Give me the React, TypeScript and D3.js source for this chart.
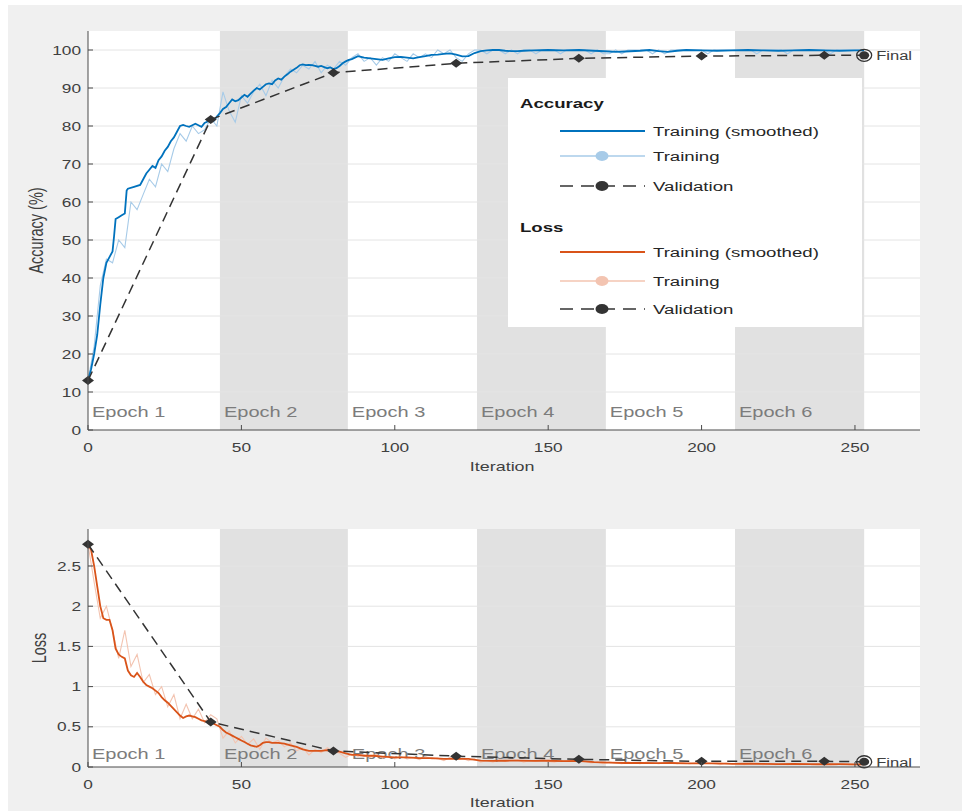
import React from 'react';
import * as d3 from 'd3';

// ---------------- data ----------------
const accSmooth: [number, number][] = [
  [0,13],[1,16],[2,20],[3,25],[4,33],[5,40],[6,44],[7,45.5],[8,47],[8.5,51],[9,55.5],[10,56],[11,56.5],[12,57],[12.6,63],[13,63.5],[15,64],[17,64.5],[18,66],[19,67.5],[20,68.5],[21,69.5],[22,69],[23,71],[24,72],[25,73.5],[26,74.5],[27,76],[28,77],[29,78.5],[30,80],[31,80.3],[32,80],[33,79.8],[34,80.2],[35,80.6],[36,80.2],[37,79.8],[38,80.8],[39,81.2],[40,81.6],[41,81.4],[42,82.5],[43,83.4],[44,84.5],[45,85],[46,86],[47,87],[48,86.5],[49,86.8],[50,87.5],[51,88.2],[52,87.7],[53,88.5],[54,89.3],[55,90],[56,89.6],[57,90.3],[58,91],[59,91.2],[60,91],[61,92],[62,92.5],[63,92.2],[64,93],[65,93.6],[66,94.3],[67,94.8],[68,95.3],[69,96],[70,96.2],[71,96],[72,96.1],[73,96],[74,95.8],[75,95.6],[76,95.8],[77,95.5],[78,95.2],[79,95.4],[80,95],[81,95.2],[82,95.8],[83,96.5],[84,97],[85,97.4],[86,97.6],[87,98],[88,98.4],[89,98.2],[90,98],[92,97.8],[94,97.6],[96,97.4],[98,97.8],[100,98.1],[102,98.2],[104,98],[106,97.8],[108,98.1],[110,98.4],[112,98.7],[114,98.8],[116,99],[118,99.1],[120,98.8],[122,98.3],[124,98.4],[126,99.2],[128,99.7],[130,99.9],[132,100],[134,100],[136,99.8],[138,99.7],[140,99.7],[142,99.8],[145,99.9],[150,100],[155,99.9],[160,100],[165,99.8],[170,99.6],[172,99.5],[175,99.6],[180,99.8],[183,100],[186,99.7],[189,99.5],[192,99.8],[195,100],[200,99.9],[205,99.8],[210,99.9],[215,100],[220,99.9],[225,99.8],[230,99.9],[235,100],[240,99.9],[245,99.8],[250,99.9],[253,99.9]
];

// raw training accuracy, one value every 2 iterations (0, 2, ..., 252)
const accRaw: number[] = [
  13,22,38,45,44,50,48,60,58,62,66,64,70,68,74,78,76,80,78,79,
  82,80,89,84,81,88,86,89,91,88,92,90,93,95,94,96,95,97,94,96,
  95,97,96,98,99,97,98,96,98,97,99,98,97,99,98,99,98,100,99,100,
  98,97,99,100,100,99,100,100,99,100,99,100,
  100,99,100,100,100,99,100,100,100,100,99,100,99,99,100,99,100,100,100,100,
  99,100,99,100,100,100,100,100,100,99,100,100,100,100,100,100,100,99,100,100,
  100,100,99,100,100,100,100,100,100,99,100,100,100,100,100
];

const lossSmooth: [number, number][] = [
  [0,2.77],[1,2.7],[2,2.5],[3,2.25],[4,2.0],[5,1.85],[6,1.83],[7,1.83],[8,1.7],[9,1.47],[10,1.4],[11,1.37],[12,1.35],[13,1.2],[14,1.14],[15,1.12],[16,1.17],[17,1.12],[18,1.06],[19,1.02],[20,1.0],[21,0.98],[22,0.95],[23,0.92],[24,0.87],[25,0.83],[26,0.8],[27,0.76],[28,0.72],[29,0.68],[30,0.64],[31,0.61],[32,0.63],[33,0.64],[34,0.63],[35,0.62],[36,0.6],[37,0.58],[38,0.57],[39,0.56],[40,0.55],[41,0.54],[42,0.52],[43,0.5],[44,0.46],[45,0.43],[46,0.41],[47,0.39],[48,0.37],[49,0.35],[50,0.33],[51,0.31],[52,0.29],[53,0.27],[54,0.26],[55,0.25],[56,0.27],[57,0.3],[58,0.31],[59,0.31],[60,0.3],[62,0.3],[64,0.29],[66,0.27],[68,0.25],[70,0.22],[72,0.2],[74,0.2],[76,0.2],[78,0.21],[80,0.2],[82,0.19],[84,0.17],[86,0.15],[88,0.15],[90,0.14],[93,0.14],[96,0.13],[100,0.12],[104,0.12],[108,0.11],[112,0.11],[116,0.1],[120,0.1],[124,0.1],[128,0.08],[132,0.075],[136,0.078],[140,0.08],[145,0.075],[150,0.078],[155,0.072],[160,0.075],[165,0.06],[170,0.055],[175,0.05],[180,0.052],[185,0.048],[190,0.05],[195,0.046],[200,0.045],[205,0.044],[210,0.04],[215,0.042],[220,0.038],[225,0.036],[230,0.038],[235,0.035],[240,0.034],[245,0.035],[250,0.033],[253,0.033]
];

// raw training loss, one value every 2 iterations (0, 2, ..., 252)
const lossRaw: number[] = [
  2.77,2.3,1.85,2.0,1.7,1.35,1.7,1.25,1.4,1.05,1.15,0.9,1.0,0.75,0.9,0.6,0.78,0.6,0.72,0.55,
  0.65,0.6,0.36,0.45,0.3,0.38,0.28,0.35,0.22,0.36,0.3,0.33,0.25,0.3,0.2,0.24,0.15,0.22,0.18,0.24,
  0.2,0.17,0.12,0.16,0.13,0.15,
  0.12,0.16,0.11,0.14,0.1,0.13,0.1,0.12,0.09,0.13,0.1,0.11,0.08,0.12,0.09,0.11,0.08,0.1,0.06,0.08,
  0.06,0.09,0.07,0.08,0.09,0.06,0.08,0.07,0.09,0.07,0.06,0.08,0.07,0.09,0.06,0.07,0.05,0.06,0.04,0.06,
  0.05,0.04,0.06,0.05,0.04,0.06,0.05,0.04,0.05,0.06,0.04,0.05,0.04,0.05,0.04,0.05,0.04,0.03,0.05,0.04,
  0.04,0.03,0.05,0.04,0.03,0.04,0.03,0.04,0.03,0.04,0.03,0.04,0.03,0.03,0.04,0.03,0.03,0.04,0.03,0.03,
  0.03
];

const valIters = [0, 40, 80, 120, 160, 200, 240];
const accVal = [13, 81.7, 94, 96.5, 97.8, 98.4, 98.6];
const lossVal = [2.77, 0.56, 0.2, 0.135, 0.095, 0.07, 0.07];
const finalIter = 253;
const finalAcc = 98.6;
const finalLoss = 0.065;

const epochEdges = [0, 43, 84.7, 126.8, 168.8, 210.9, 253];
const epochLabels = ['Epoch 1', 'Epoch 2', 'Epoch 3', 'Epoch 4', 'Epoch 5', 'Epoch 6'];
const xTicks = [0, 50, 100, 150, 200, 250];
const accTicks = [0, 10, 20, 30, 40, 50, 60, 70, 80, 90, 100];
const lossTicks = [0, 0.5, 1, 1.5, 2, 2.5];
const lossTickLabels = ['0', '0.5', '1', '1.5', '2', '2.5'];

// ---------------- styling ----------------
const SX = 1.38; // horizontal stretch seen in the picture
const FONT = '"Liberation Sans", Arial, Helvetica, sans-serif';
const C_BG = '#f0f0f0';
const C_BAND = '#e1e1e1';
const C_GRID = '#e4e4e4';
const C_AXIS = '#4a4a4a';
const C_TEXT = '#404040';
const C_EPOCH = '#7c7c7c';
const C_ACC = '#0072bd';
const C_ACC_RAW = '#a7cbe8';
const C_LOSS = '#d95319';
const C_LOSS_RAW = '#f3c4b1';
const C_VAL = '#333333';

const rawIters = accRaw.map((_, i) => i * 2);

function T(props: { x: number; y: number; size: number; children: React.ReactNode; anchor?: string; fill?: string; weight?: string; rotate?: boolean }) {
  const { x, y, size, anchor = 'start', fill = C_TEXT, weight = 'normal', rotate = false } = props;
  return (
    <text
      transform={`translate(${x},${y}) scale(${SX},1)${rotate ? ' rotate(-90)' : ''}`}
      fontFamily={FONT}
      fontSize={size}
      fontWeight={weight}
      fill={fill}
      textAnchor={anchor}
      dominantBaseline="central"
    >
      {props.children}
    </text>
  );
}

function diamond(cx: number, cy: number) {
  const w = 6, h = 4.5;
  return `M${cx - w},${cy}L${cx},${cy - h}L${cx + w},${cy}L${cx},${cy + h}Z`;
}

function Panel(props: {
  top: number; bottom: number; yDomain: [number, number]; ticks: number[]; tickLabels: string[];
  smooth: [number, number][]; raw: number[]; val: number[]; finalVal: number;
  cMain: string; cRaw: string; yLabel: string; yLabelX: number; epochY: number;
  tickLabelY: number; iterLabelY: number;
}) {
  const x = d3.scaleLinear().domain([0, 271.2]).range([88, 920]);
  const y = d3.scaleLinear().domain(props.yDomain).range([props.bottom, props.top]);
  const line = d3.line<[number, number]>().x(d => x(d[0])).y(d => y(d[1]));
  const rawPts: [number, number][] = props.raw.map((v, i) => [rawIters[i], v]);
  const valPts: [number, number][] = valIters.map((it, i) => [it, props.val[i]] as [number, number]).concat([[finalIter, props.finalVal]]);
  return (
    <g>
      <rect x={88} y={props.top} width={832} height={props.bottom - props.top} fill="#ffffff" />
      {epochEdges.slice(0, -1).map((e, i) =>
        i % 2 === 1 ? (
          <rect key={i} x={x(e)} y={props.top} width={x(epochEdges[i + 1]) - x(e)} height={props.bottom - props.top} fill={C_BAND} />
        ) : null
      )}
      {props.ticks.map((t, i) => (i > 0 ? <line key={i} x1={88} x2={920} y1={y(t)} y2={y(t)} stroke={C_GRID} strokeWidth={1} /> : null))}
      {epochEdges.slice(0, -1).map((e, i) => (
        <T key={i} x={x(e) + 4} y={props.epochY} size={14.5} fill={C_EPOCH}>{epochLabels[i]}</T>
      ))}
      <path d={line(rawPts) || ''} fill="none" stroke={props.cRaw} strokeWidth={1.1} />
      <path d={line(props.smooth) || ''} fill="none" stroke={props.cMain} strokeWidth={1.8} />
      <path d={line(valPts) || ''} fill="none" stroke={C_VAL} strokeWidth={1.5} strokeDasharray="10,6" />
      {valIters.map((it, i) => (
        <path key={i} d={diamond(x(it), y(props.val[i]))} fill={C_VAL} />
      ))}
      <ellipse cx={x(finalIter)} cy={y(props.finalVal)} rx={7.5} ry={6} fill="none" stroke={C_VAL} strokeWidth={1.3} />
      <ellipse cx={x(finalIter)} cy={y(props.finalVal)} rx={5} ry={4} fill={C_VAL} />
      <T x={x(finalIter) + 12} y={y(props.finalVal) + 1} size={12} fill={C_TEXT}>Final</T>
      {/* axes */}
      <line x1={88} x2={88} y1={props.top} y2={props.bottom} stroke={C_AXIS} strokeWidth={1} />
      <line x1={88} x2={920} y1={props.bottom} y2={props.bottom} stroke={C_AXIS} strokeWidth={1} />
      {props.ticks.map((t, i) => (
        <g key={i}>
          <line x1={88} x2={93} y1={y(t)} y2={y(t)} stroke={C_AXIS} strokeWidth={1} />
          <T x={81} y={y(t)} size={12.5} anchor="end">{props.tickLabels[i]}</T>
        </g>
      ))}
      {xTicks.map((t, i) => (
        <g key={i}>
          <line x1={x(t)} x2={x(t)} y1={props.bottom} y2={props.bottom - 5} stroke={C_AXIS} strokeWidth={1} />
          <T x={x(t)} y={props.tickLabelY} size={12.5} anchor="middle">{String(t)}</T>
        </g>
      ))}
      <T x={x(135)} y={props.iterLabelY} size={13} anchor="middle">Iteration</T>
      <T x={props.yLabelX} y={(props.top + props.bottom) / 2} size={14.5} anchor="middle" rotate>{props.yLabel}</T>
    </g>
  );
}

function Legend() {
  const lx1 = 560, lx2 = 645, mx = 602, tx = 653;
  const rows = [
    { y: 131, kind: 'smooth', c: C_ACC, label: 'Training (smoothed)' },
    { y: 156, kind: 'raw', c: C_ACC_RAW, label: 'Training' },
    { y: 186, kind: 'val', c: C_VAL, label: 'Validation' },
    { y: 252, kind: 'smooth', c: C_LOSS, label: 'Training (smoothed)' },
    { y: 281, kind: 'raw', c: C_LOSS_RAW, label: 'Training' },
    { y: 309, kind: 'val', c: C_VAL, label: 'Validation' },
  ];
  return (
    <g>
      <rect x={508} y={78} width={354} height={249} fill="#ffffff" />
      <T x={520} y={103} size={13.5} weight="bold" fill="#1a1a1a">Accuracy</T>
      <T x={520} y={227} size={13.5} weight="bold" fill="#1a1a1a">Loss</T>
      {rows.map((r, i) => (
        <g key={i}>
          {r.kind === 'val' ? (
            <>
              <line x1={lx1} x2={lx2} y1={r.y} y2={r.y} stroke={r.c} strokeWidth={1.5} strokeDasharray="13,8" />
              <ellipse cx={mx} cy={r.y} rx={6.5} ry={5} fill={r.c} />
            </>
          ) : (
            <line x1={lx1} x2={lx2} y1={r.y} y2={r.y} stroke={r.c} strokeWidth={r.kind === 'smooth' ? 2 : 1.5} />
          )}
          {r.kind === 'raw' ? <ellipse cx={mx} cy={r.y} rx={6.5} ry={5} fill={r.c} /> : null}
          <T x={tx} y={r.y} size={13.5} fill="#262626">{r.label}</T>
        </g>
      ))}
    </g>
  );
}

export default function App() {
  return (
    <div style={{ position: 'absolute', left: 0, top: 0 }}>
      <svg width={967} height={811} style={{ display: 'block' }}>
        <rect x={0} y={0} width={967} height={811} fill="#ffffff" />
        <rect x={8} y={5} width={954} height={806} fill={C_BG} />
        <Panel
          top={31} bottom={430} yDomain={[0, 105]} ticks={accTicks} tickLabels={accTicks.map(String)}
          smooth={accSmooth} raw={accRaw} val={accVal} finalVal={finalAcc}
          cMain={C_ACC} cRaw={C_ACC_RAW} yLabel="Accuracy (%)" yLabelX={36} epochY={412}
          tickLabelY={447} iterLabelY={466}
        />
        <Legend />
        <Panel
          top={529} bottom={767} yDomain={[0, 2.96]} ticks={lossTicks} tickLabels={lossTickLabels}
          smooth={lossSmooth} raw={lossRaw} val={lossVal} finalVal={finalLoss}
          cMain={C_LOSS} cRaw={C_LOSS_RAW} yLabel="Loss" yLabelX={39} epochY={754}
          tickLabelY={784} iterLabelY={802}
        />
      </svg>
    </div>
  );
}
